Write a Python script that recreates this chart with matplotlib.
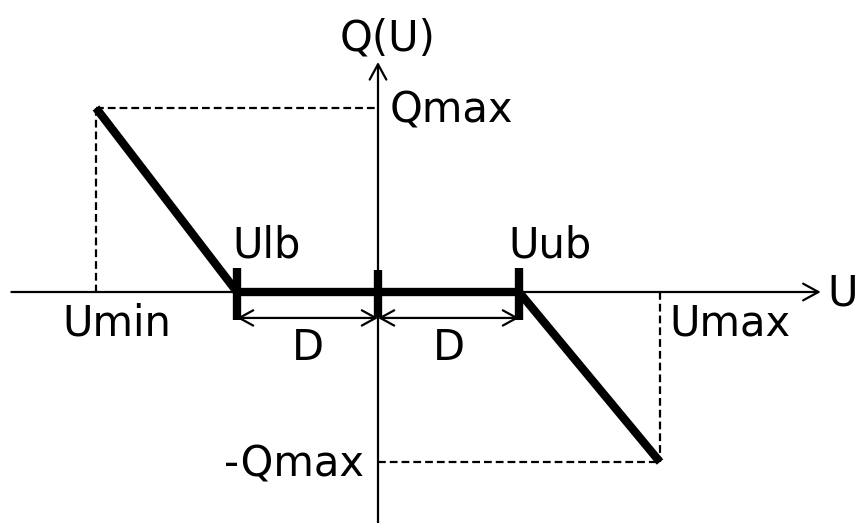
import numpy as np
import matplotlib.pyplot as plt

# Q(U) droop characteristic with dead band D around the origin
u_curve = [-2.0, -1.0, 1.0, 2.0]      # Umin, Ulb, Uub, Umax
q_curve = [1.0, 0.0, 0.0, -0.924]      # Qmax, 0, 0, -Qmax
u_ticks = [-1.0, 0.0, 1.0]             # Ulb, 0, Uub
u_names = ["Umin", "Ulb", "Uub", "Umax"]
q_names = ["Qmax", "-Qmax"]

umin, ulb, uub, umax = u_curve
qmax, qmin = q_curve[0], q_curve[-1]

fig = plt.figure(figsize=(8.62, 5.23), dpi=100)
ax = fig.add_axes([0, 0, 1, 1])
ax.set_xlim(-378 / 141, 484 / 141)
ax.set_ylim(-231 / 184, 292 / 184)
ax.axis("off")

px = 0.72  # points per pixel
fs = 30

# axes with open arrow heads
head = "->,head_length=1.1,head_width=0.6"
ax.annotate("", xy=(3.14, 0), xytext=(-2.6, 0),
            arrowprops=dict(arrowstyle=head, lw=1.6, color="black", shrinkA=0, shrinkB=0))
ax.annotate("", xy=(0, 1.25), xytext=(0, -1.3),
            arrowprops=dict(arrowstyle=head, lw=1.6, color="black", shrinkA=0, shrinkB=0))

# dashed guides to the limits
dash = dict(color="black", lw=1.6, ls=(0, (3.5, 1.8)))
ax.plot([umin, 0], [qmax, qmax], **dash)
ax.plot([umin, umin], [qmax, 0], **dash)
ax.plot([umax, umax], [0, qmin], **dash)
ax.plot([0, umax], [qmin, qmin], **dash)

# characteristic
ax.plot(u_curve, q_curve, color="black", lw=6, solid_capstyle="butt", solid_joinstyle="miter")

# heavy marks at Ulb, 0, Uub
tick_top = [0.13, 0.12, 0.13]
tick_bot = [-0.152, -0.136, -0.152]
for u, t, b in zip(u_ticks, tick_top, tick_bot):
    ax.plot([u, u], [t, b], color="black", lw=6, solid_capstyle="butt")

# dimension arrows for the dead band
ya = -0.141
for a, b in [(ulb, 0), (0, uub)]:
    ax.annotate("", xy=(b, ya), xytext=(a, ya),
                arrowprops=dict(arrowstyle="<->,head_length=1.0,head_width=0.55",
                                lw=1.6, color="black", shrinkA=0, shrinkB=0))
    ax.annotate("D", xy=((a + b) / 2, 0), xytext=(0, -68 * px), textcoords="offset points",
                ha="center", va="baseline", fontsize=fs)

# labels
def label(txt, xy, dx, dy, ha="left"):
    ax.annotate(txt, xy=xy, xytext=(dx * px, dy * px), textcoords="offset points",
                ha=ha, va="baseline", fontsize=fs)

label(q_names[0], (0, qmax), 12, -14)
label(q_names[1], (0, qmin), -14, -14, ha="right")
label(u_names[0], (umin, 0), 21, -43, ha="center")
label(u_names[1], (ulb, 0), -5, 34)
label(u_names[2], (uub, 0), -11, 34)
label(u_names[3], (umax, 0), 9, -44)
label("Q(U)", (0, 1.25), 10, 12, ha="center")
label("U", (3.14, 0), 7, -13)

fig.savefig("out.png", dpi=100)
